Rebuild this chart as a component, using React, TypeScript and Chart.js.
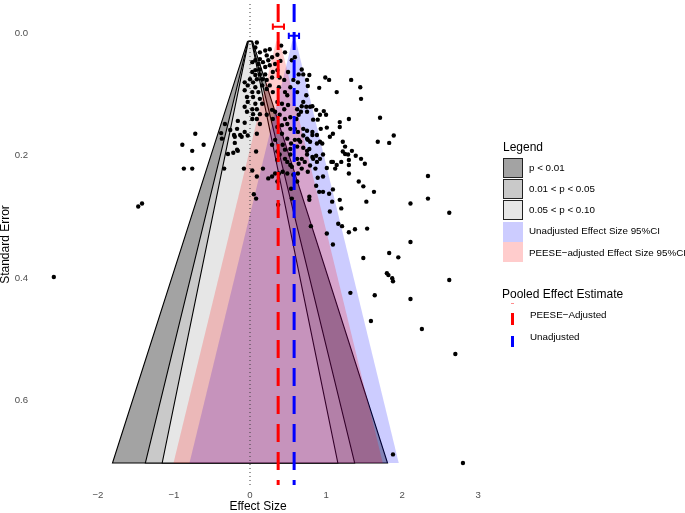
import React, { useEffect, useRef } from 'react';
import { Chart, registerables } from 'chart.js';

Chart.register(...registerables);

const FONT = '"Liberation Sans", Arial, Helvetica, sans-serif';

// Axis ticks and visible ranges
const X_TICKS = [-2, -1, 0, 1, 2, 3];
const Y_TICKS = [0, 0.2, 0.4, 0.6];
const X_RANGE = [-2.88, 3.09];
const SE_RANGE = [-0.048, 0.738];

// Funnel contours (two-sided z critical values) and their fills
const CONTOUR_Z = [2.576, 1.96, 1.645];
const CONTOUR_FILLS = ['#a3a3a3', '#c9c9c9', '#e6e6e6'];
const FUNNEL_SE = [0.013, 0.702];
const CI_Z = 1.96;

// Pooled estimates with their confidence intervals
const UNADJUSTED_ESTIMATE = 0.58;
const UNADJUSTED_CI = [0.51, 0.645];
const UNADJUSTED_BAR_SE = 0.004;
const PEESE_ESTIMATE = 0.37;
const PEESE_CI = [0.3, 0.447];
const PEESE_BAR_SE = -0.011;

// Individual studies: [effect size, standard error]
const STUDIES_OUTER: [number, number][] = [
  [-2.58, 0.398], [-1.47, 0.283], [-1.42, 0.278], [-0.89, 0.182], [-0.61, 0.182],
  [-0.72, 0.164], [-0.76, 0.192], [-0.87, 0.221], [-0.76, 0.221], [-0.38, 0.163],
  [-0.33, 0.148], [-0.21, 0.166], [-0.11, 0.169], [-0.03, 0.167], [-0.2, 0.179],
  [-0.16, 0.192], [-0.29, 0.197], [-0.22, 0.195], [-0.34, 0.221], [-0.08, 0.221],
  [-0.07, 0.146], [-0.17, 0.19], [0.08, 0.193], [0.17, 0.221], [0.09, 0.234],
  [0.05, 0.263], [0.08, 0.27], [0.03, 0.224], [0.09, 0.164],
];

const STUDIES_MIDDLE: [number, number][] = [
  [0.24, 0.237], [0.29, 0.234], [0.33, 0.229], [0.37, 0.28], [0.36, 0.242],
  [0.38, 0.229], [0.43, 0.226], [0.49, 0.229], [0.55, 0.27], [0.54, 0.254],
  [0.57, 0.231], [0.62, 0.242], [0.63, 0.229], [0.78, 0.267], [0.78, 0.272],
  [0.8, 0.315], [1.01, 0.327], [1.09, 0.345], [1.05, 0.291], [1.08, 0.275],
  [0.91, 0.259], [0.96, 0.259], [1.04, 0.262], [1.09, 0.255], [0.87, 0.249],
  [0.89, 0.236], [0.96, 0.234], [0.86, 0.221], [0.76, 0.226], [0.83, 0.205],
  [0.87, 0.2], [0.75, 0.198], [0.68, 0.221], [0.64, 0.213], [0.53, 0.215],
  [0.46, 0.205], [0.39, 0.198], [0.36, 0.193], [0.29, 0.182], [0.43, 0.182],
  [0.53, 0.189], [0.59, 0.174], [0.66, 0.177], [0.76, 0.174], [0.88, 0.18],
  [0.92, 0.177], [0.82, 0.166], [1.14, 0.215], [1.12, 0.221], [1.09, 0.21],
  [1.22, 0.193], [1.25, 0.185], [1.22, 0.177], [1.29, 0.198], [1.3, 0.215],
  [1.39, 0.2], [1.46, 0.205], [1.51, 0.213], [1.3, 0.229], [1.43, 0.242],
  [1.49, 0.25], [1.63, 0.259], [1.18, 0.272], [1.2, 0.286], [1.53, 0.275],
  [1.16, 0.311], [1.21, 0.315], [1.38, 0.32], [1.54, 0.319], [1.3, 0.325],
];

const STUDIES_RIGHT: [number, number][] = [
  [1.68, 0.177], [1.83, 0.179], [1.34, 0.192], [1.25, 0.197], [2.34, 0.233],
  [2.11, 0.278], [2.34, 0.27], [2.62, 0.293], [2.11, 0.341], [1.83, 0.359],
  [1.95, 0.366], [1.49, 0.367], [1.8, 0.392], [1.82, 0.395], [1.87, 0.4],
  [1.88, 0.405], [2.62, 0.403], [1.32, 0.424], [1.64, 0.428], [2.11, 0.434],
  [1.59, 0.47], [2.26, 0.483], [2.7, 0.524], [1.88, 0.688], [2.8, 0.702],
];

const STUDIES_UPPER: [number, number][] = [
  [0.91, 0.089], [0.99, 0.072], [1.04, 0.076], [1.33, 0.076], [1.45, 0.088],
  [1.14, 0.096], [1.46, 0.107], [1.71, 0.138], [1.89, 0.167], [1.3, 0.14],
  [1.18, 0.145], [1.18, 0.153], [1.09, 0.164], [1.01, 0.154], [1.05, 0.169],
  [0.93, 0.156], [1.0, 0.133], [0.97, 0.127], [0.92, 0.133], [0.87, 0.125],
  [0.89, 0.141], [0.83, 0.141], [0.75, 0.159], [0.82, 0.161], [0.88, 0.166],
  [0.95, 0.18], [1.3, 0.207], [1.2, 0.21], [1.07, 0.21], [1.01, 0.22],
  [0.78, 0.068], [0.75, 0.076], [0.76, 0.086], [0.7, 0.067], [0.68, 0.059],
  [0.64, 0.067], [0.5, 0.063], [0.36, 0.06], [0.3, 0.063], [0.29, 0.072],
  [0.39, 0.072], [0.45, 0.076], [0.57, 0.076], [0.63, 0.08], [0.53, 0.088],
  [0.38, 0.088], [0.3, 0.096], [0.46, 0.096], [0.49, 0.101], [0.62, 0.096],
  [0.74, 0.101], [0.7, 0.112], [0.68, 0.119], [0.74, 0.12], [0.79, 0.12],
  [0.82, 0.119], [0.75, 0.128], [0.67, 0.128], [0.62, 0.124], [0.64, 0.133],
  [0.61, 0.14], [0.53, 0.137], [0.46, 0.14], [0.39, 0.133], [0.33, 0.128],
  [0.29, 0.125], [0.45, 0.124], [0.5, 0.117], [0.42, 0.115], [0.36, 0.112],
  [0.3, 0.14], [0.49, 0.148], [0.42, 0.15], [0.36, 0.153], [0.53, 0.156],
  [0.59, 0.156], [0.63, 0.161], [0.7, 0.156], [0.7, 0.167], [0.64, 0.174],
  [0.75, 0.172], [0.79, 0.177], [0.42, 0.164], [0.49, 0.172], [0.33, 0.174],
  [0.54, 0.18], [0.62, 0.185], [0.7, 0.187], [0.75, 0.192], [0.78, 0.189],
  [0.82, 0.202], [0.68, 0.205], [0.72, 0.21], [0.46, 0.19], [0.53, 0.198],
  [0.62, 0.205], [0.36, 0.207], [0.49, 0.21], [0.55, 0.218], [0.79, 0.216],
  [0.88, 0.21], [0.92, 0.205], [0.96, 0.198],
];

const STUDIES_APEX: [number, number][] = [
  [0.09, 0.015], [0.07, 0.023], [0.13, 0.031], [0.2, 0.028], [0.26, 0.026],
  [0.22, 0.036], [0.13, 0.042], [0.07, 0.044], [0.03, 0.047], [0.11, 0.05],
  [0.17, 0.047], [0.24, 0.044], [0.29, 0.039], [0.26, 0.052], [0.2, 0.055],
  [0.13, 0.059], [0.07, 0.06], [0.03, 0.063], [0.07, 0.068], [0.13, 0.067],
  [0.2, 0.067], [0.0, 0.075], [0.09, 0.075], [0.16, 0.075], [0.22, 0.076],
  [-0.07, 0.08], [0.04, 0.08], [-0.03, 0.085], [0.07, 0.088], [0.16, 0.085],
  [0.22, 0.091], [0.26, 0.085], [-0.07, 0.093], [0.03, 0.096], [0.11, 0.096],
  [-0.04, 0.104], [0.04, 0.104], [0.13, 0.107], [-0.03, 0.112], [0.07, 0.115],
  [0.16, 0.115], [-0.07, 0.12], [0.03, 0.124], [0.09, 0.124], [-0.04, 0.128],
  [0.13, 0.132], [0.04, 0.132], [0.03, 0.14], [0.09, 0.14], [-0.16, 0.143],
  [0.13, 0.148], [0.22, 0.133], [-0.26, 0.158], [-0.17, 0.156], [-0.07, 0.161],
  [-0.13, 0.166], [-0.2, 0.169], [-0.37, 0.172], [0.41, 0.02], [0.46, 0.031],
  [0.55, 0.044], [0.59, 0.039], [0.33, 0.05], [0.4, 0.045], [0.36, 0.035],
];

const ALL_STUDIES = [
  ...STUDIES_OUTER, ...STUDIES_MIDDLE, ...STUDIES_RIGHT, ...STUDIES_UPPER, ...STUDIES_APEX,
];

type Pt = { x: number; y: number | null };

// Trapezoid between centre ± z·SE over the funnel's SE span, closed back to the start
function funnelShape(center: number, z: number): Pt[] {
  const [s0, s1] = FUNNEL_SE;
  return [
    { x: center - z * s0, y: s0 },
    { x: center + z * s0, y: s0 },
    { x: center + z * s1, y: s1 },
    { x: center - z * s1, y: s1 },
    { x: center - z * s0, y: s0 },
  ];
}

function errorBar(lo: number, hi: number, se: number, cap: number): Pt[] {
  return [
    { x: lo, y: se - cap }, { x: lo, y: se + cap }, { x: lo, y: null },
    { x: lo, y: se }, { x: hi, y: se }, { x: hi, y: null },
    { x: hi, y: se - cap }, { x: hi, y: se + cap },
  ];
}

function vLine(x: number): Pt[] {
  return [{ x, y: SE_RANGE[0] }, { x, y: SE_RANGE[1] }];
}

const fmtSigned = (v: number) => (v < 0 ? '\u2212' + Math.abs(v) : String(v));

function buildConfig(): any {
  const contourSets = CONTOUR_Z.map((z, i) => ({
    data: funnelShape(0, z),
    showLine: true,
    fill: 'shape',
    backgroundColor: CONTOUR_FILLS[i],
    borderColor: '#000000',
    borderWidth: 1.1,
    pointRadius: 0,
    order: 10 - i,
  }));

  return {
    type: 'scatter',
    data: {
      datasets: [
        ...contourSets,
        {
          data: funnelShape(UNADJUSTED_ESTIMATE, CI_Z),
          showLine: true,
          fill: 'shape',
          backgroundColor: 'rgba(0,0,255,0.2)',
          borderColor: 'rgba(0,0,0,0)',
          borderWidth: 0,
          pointRadius: 0,
          order: 6,
        },
        {
          data: funnelShape(PEESE_ESTIMATE, CI_Z),
          showLine: true,
          fill: 'shape',
          backgroundColor: 'rgba(255,0,0,0.2)',
          borderColor: 'rgba(0,0,0,0)',
          borderWidth: 0,
          pointRadius: 0,
          order: 5,
        },
        {
          data: vLine(0),
          showLine: true,
          borderColor: '#3a3a3a',
          borderWidth: 1,
          borderDash: [1, 3],
          pointRadius: 0,
          order: 4,
        },
        {
          data: ALL_STUDIES.map(([x, y]) => ({ x, y })),
          pointRadius: 2.2,
          pointBackgroundColor: '#000000',
          pointBorderWidth: 0,
          order: 3,
        },
        {
          data: vLine(PEESE_ESTIMATE),
          showLine: true,
          borderColor: '#ff0000',
          borderWidth: 3,
          borderDash: [18, 10],
          pointRadius: 0,
          order: 2,
        },
        {
          data: vLine(UNADJUSTED_ESTIMATE),
          showLine: true,
          borderColor: '#0000ff',
          borderWidth: 3,
          borderDash: [18, 10],
          pointRadius: 0,
          order: 2,
        },
        {
          data: errorBar(PEESE_CI[0], PEESE_CI[1], PEESE_BAR_SE, 0.005),
          showLine: true,
          borderColor: '#ff0000',
          borderWidth: 2,
          pointRadius: 0,
          order: 1,
        },
        {
          data: errorBar(UNADJUSTED_CI[0], UNADJUSTED_CI[1], UNADJUSTED_BAR_SE, 0.005),
          showLine: true,
          borderColor: '#0000ff',
          borderWidth: 2,
          pointRadius: 0,
          order: 1,
        },
      ],
    },
    options: {
      animation: false,
      responsive: false,
      devicePixelRatio: 1,
      events: [],
      layout: { padding: { left: 0, right: 200, top: 1, bottom: 0 } },
      plugins: { legend: { display: false }, tooltip: { enabled: false } },
      scales: {
        x: {
          type: 'linear',
          min: X_RANGE[0],
          max: X_RANGE[1],
          grid: { display: false, drawTicks: false },
          border: { display: false },
          afterBuildTicks: (s: any) => {
            s.ticks = X_TICKS.map((v) => ({ value: v }));
          },
          afterFit: (s: any) => {
            s.height = 28;
            s.paddingLeft = 0;
            s.paddingRight = 0;
          },
          ticks: {
            padding: 5,
            color: '#4d4d4d',
            font: { family: FONT, size: 9.6 },
            callback: (v: any) => fmtSigned(Number(v)),
          },
          title: {
            display: true,
            text: 'Effect Size',
            color: '#000000',
            font: { family: FONT, size: 12, lineHeight: 1 },
            padding: 0,
          },
        },
        y: {
          type: 'linear',
          reverse: true,
          min: SE_RANGE[0],
          max: SE_RANGE[1],
          grid: { display: false, drawTicks: false },
          border: { display: false },
          afterBuildTicks: (s: any) => {
            s.ticks = Y_TICKS.map((v) => ({ value: v }));
          },
          afterFit: (s: any) => {
            s.width = 31;
            s.paddingTop = 0;
            s.paddingBottom = 0;
          },
          ticks: {
            padding: 3,
            color: '#4d4d4d',
            font: { family: FONT, size: 9.6 },
            callback: (v: any) => Number(v).toFixed(1),
          },
          title: {
            display: true,
            text: 'Standard Error',
            color: '#000000',
            font: { family: FONT, size: 12, lineHeight: 1 },
            padding: 0,
          },
        },
      },
    },
  };
}

function Text(props: { x: number; cy: number; size: number; children: React.ReactNode }) {
  return (
    <div
      style={{
        position: 'absolute',
        left: props.x,
        top: props.cy - 8,
        height: 16,
        lineHeight: '16px',
        fontSize: props.size,
        color: '#000',
        whiteSpace: 'nowrap',
      }}
    >
      {props.children}
    </div>
  );
}

function Swatch(props: { top: number; color: string; bordered: boolean }) {
  return (
    <div
      style={{
        position: 'absolute',
        left: 503,
        top: props.top,
        width: 20,
        height: 20,
        boxSizing: 'border-box',
        background: props.color,
        border: props.bordered ? '1.8px solid #222' : 'none',
      }}
    />
  );
}

const LEGEND_LABELS = [
  'p < 0.01',
  '0.01 < p < 0.05',
  '0.05 < p < 0.10',
  'Unadjusted Effect Size 95%CI',
  'PEESE\u2212adjusted Effect Size 95%CI',
];

export default function App() {
  const ref = useRef<HTMLCanvasElement>(null);

  useEffect(() => {
    const chart = new Chart(ref.current as HTMLCanvasElement, buildConfig());
    return () => chart.destroy();
  }, []);

  return (
    <div
      style={{
        position: 'fixed',
        left: 0,
        top: 0,
        width: 685,
        height: 513,
        background: '#fff',
        fontFamily: FONT,
        overflow: 'hidden',
      }}
    >
      <canvas
        ref={ref}
        width={685}
        height={513}
        style={{ position: 'absolute', left: 0, top: 0, width: 685, height: 513 }}
      />
      <Text x={503} cy={147} size={12}>Legend</Text>
      <Swatch top={158} color={CONTOUR_FILLS[0]} bordered />
      <Swatch top={179} color={CONTOUR_FILLS[1]} bordered />
      <Swatch top={200} color={CONTOUR_FILLS[2]} bordered />
      <Swatch top={221.5} color="rgba(0,0,255,0.2)" bordered={false} />
      <Swatch top={242} color="rgba(255,0,0,0.2)" bordered={false} />
      <Text x={529} cy={167.5} size={9.8}>{LEGEND_LABELS[0]}</Text>
      <Text x={529} cy={189} size={9.8}>{LEGEND_LABELS[1]}</Text>
      <Text x={529} cy={210} size={9.8}>{LEGEND_LABELS[2]}</Text>
      <Text x={529} cy={231} size={9.8}>{LEGEND_LABELS[3]}</Text>
      <Text x={529} cy={252.5} size={9.8}>{LEGEND_LABELS[4]}</Text>

      <Text x={502} cy={293.5} size={12}>Pooled Effect Estimate</Text>
      <div style={{ position: 'absolute', left: 511, top: 303, width: 3, height: 1, background: 'rgba(255,0,0,0.45)' }} />
      <div style={{ position: 'absolute', left: 511, top: 313, width: 3, height: 12, background: '#ff0000' }} />
      <div style={{ position: 'absolute', left: 511, top: 335.5, width: 3, height: 11.5, background: '#0000ff' }} />
      <Text x={530} cy={314.5} size={9.8}>PEESE{'\u2212'}Adjusted</Text>
      <Text x={530} cy={337} size={9.8}>Unadjusted</Text>
    </div>
  );
}
